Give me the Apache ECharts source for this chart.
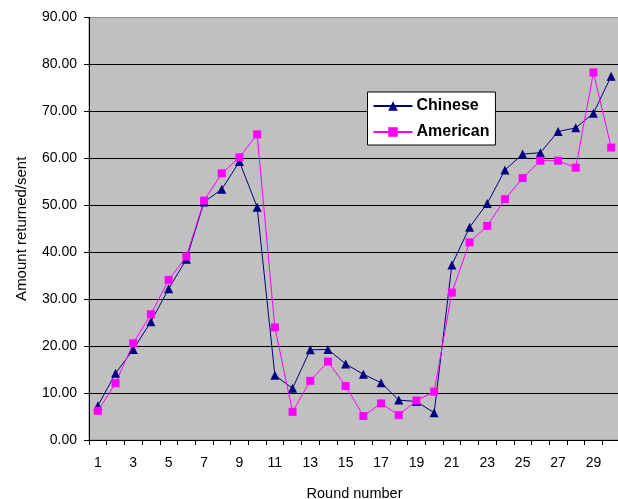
<!DOCTYPE html>
<html>
<head>
<meta charset="utf-8">
<script src="https://cdn.jsdelivr.net/npm/echarts@6/dist/echarts.min.js"></script>
<style>
html,body{margin:0;padding:0;background:#fff;}
#c{width:618px;height:499px;}
</style>
</head>
<body>
<div id="c"></div>
<script>
const rounds = ['1','2','3','4','5','6','7','8','9','10','11','12','13','14','15','16','17','18','19','20','21','22','23','24','25','26','27','28','29','30'];
const chinese = [7.3,14.2,19.3,25.2,32.2,38.5,50.7,53.4,59.3,49.6,13.8,11.0,19.2,19.3,16.2,14.0,12.2,8.5,8.2,5.8,37.3,45.3,50.4,57.5,60.9,61.2,65.7,66.5,69.6,77.5];
const american = [6.2,12.1,20.6,26.8,34.1,39.1,51.0,56.8,60.2,65.1,24.0,6.0,12.6,16.7,11.5,5.1,7.8,5.3,8.4,10.3,31.4,42.1,45.6,51.3,55.8,59.5,59.5,58.0,78.3,62.3];
const yTicks = {min:0, max:90, interval:10};

const font = 'Liberation Sans, Arial, sans-serif';
const chart = echarts.init(document.getElementById('c'));
chart.setOption({
  animation:false,
  backgroundColor:'#ffffff',
  textStyle:{fontFamily:font},
  grid:{left:89, top:17.5, width:531, height:422.5, outerBoundsMode:'none', containLabel:false,
        show:true, backgroundColor:'#c0c0c0', borderColor:'#8c8c8c', borderWidth:1},
  legend:{
    orient:'vertical', left:367.5, top:92,
    backgroundColor:'#ffffff', borderColor:'#000', borderWidth:1,
    padding:[6,6,5,5], itemGap:10, itemWidth:39, itemHeight:12,
    textStyle:{fontFamily:font, fontSize:16, fontWeight:'bold', color:'#000', padding:[0,0,0,-1]},
    data:['Chinese','American']
  },
  xAxis:{
    type:'category', data:rounds, boundaryGap:true,
    name:'Round number', nameLocation:'middle', nameGap:46,
    nameTextStyle:{fontFamily:font, fontSize:14.5, color:'#000'},
    axisLine:{lineStyle:{color:'#000', width:1}},
    axisTick:{show:true, length:5, interval:0, lineStyle:{color:'#000'}},
    axisLabel:{interval:1, margin:16, fontFamily:font, fontSize:14, color:'#000'},
    splitLine:{show:false}
  },
  yAxis:{
    type:'value', min:yTicks.min, max:yTicks.max, interval:yTicks.interval,
    name:'Amount returned/sent', nameLocation:'middle', nameGap:60,
    nameTextStyle:{fontFamily:font, fontSize:15, color:'#000'},
    axisLine:{show:true, lineStyle:{color:'#000', width:1}},
    axisTick:{show:true, length:5, lineStyle:{color:'#000'}},
    axisLabel:{margin:12, fontFamily:font, fontSize:14, color:'#000', formatter:v=>v.toFixed(2)},
    splitLine:{show:true, showMaxLine:false, lineStyle:{color:'#000', width:1.2}}
  },
  series:[
    {name:'Chinese', type:'line', data:chinese, symbol:'triangle', symbolSize:9,
     itemStyle:{color:'#000080'}, lineStyle:{color:'#000080', width:1}},
    {name:'American', type:'line', data:american, symbol:'rect', symbolSize:8,
     itemStyle:{color:'#ff00ff'}, lineStyle:{color:'#ff00ff', width:1}}
  ]
});
</script>
</body>
</html>
